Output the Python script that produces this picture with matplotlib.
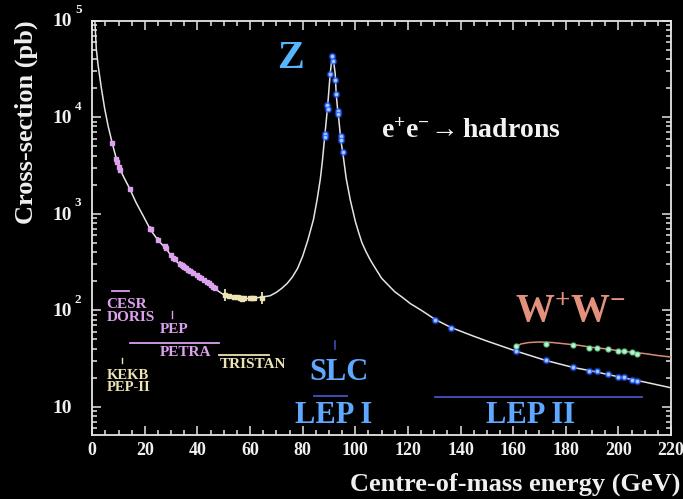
import matplotlib
matplotlib.use("Agg")
import matplotlib.pyplot as plt
from matplotlib.ticker import MultipleLocator, LogLocator, NullFormatter, FixedLocator

# ---------------------------------------------------------------- data
# Standard Model prediction for e+e- -> hadrons (GeV, pb)
curve_energy = [0.8, 1.52, 2.2, 3.4, 4.7, 6.0, 7.5, 9.8, 12.0, 14.2, 16.6, 19.3,
                22.2, 25.1, 28.0, 30.8, 34.0, 37.2, 41.0, 44.1, 46.7, 50.5,
                52.4, 57.5, 60.5, 63.2, 65.5, 67.6, 70.0, 72.0, 74.0, 76.0,
                78.0, 80.0, 82.0, 84.1, 85.5, 86.7, 87.5, 88.3, 89.05, 89.7,
                90.45, 91.1, 91.32, 91.7, 92.35, 92.73, 93.2, 93.76, 94.5, 95.3,
                96.5, 98.1, 100.0, 101.2, 102.5, 104.0, 105.7, 107.5, 110.0,
                112.5, 115.0, 118.0, 120.9, 125.0, 130.4, 136.4, 145.0, 150.0,
                161.2, 172.3, 182.8, 190.0, 200.0, 210.0, 220.0]
curve_xsec = [126000, 51100, 34700, 20400, 12300, 8130, 5500, 3160, 2380, 1820,
              1310, 955, 676, 525, 437, 339, 288, 257, 214, 191, 166, 141, 138,
              132, 132, 135, 138, 141, 153, 168, 188, 219, 269, 363, 537, 871,
              1410, 2290, 3550, 6030, 9770, 15500, 28200, 40300, 43600, 38600,
              28100, 17400, 12600, 9250, 5740, 4170, 2340, 1380, 832, 646, 501,
              407, 331, 275, 214, 182, 155, 135, 117, 100, 80.0, 66.1, 53.7,
              47.9, 37.6, 30.2, 25.5, 23.4, 20.4, 18.0, 15.7]

# W+W- threshold contribution
ww_curve_energy = [160.6, 161.2, 163.0, 166.0, 170.0, 175.0, 180.0, 185.0,
                   190.0, 195.0, 200.0, 205.0, 210.0, 215.0, 220.0]
ww_curve_xsec = [38.0, 42.2, 44.7, 46.2, 46.8, 46.2, 44.7, 43.2, 41.2, 39.8,
                 38.0, 36.7, 35.5, 33.9, 32.7]

# PEP / PETRA / CESR / DORIS measurements
low_E = [7.5, 9.1, 9.5, 10.2, 10.65, 14.2, 22.0, 22.2, 25.1, 27.7, 28.0, 29.9,
         30.8, 31.3, 33.4, 34.0, 34.6, 35.0, 35.5, 36.3, 37.2, 38.3, 39.8, 40.5,
         41.5, 42.5, 43.6, 44.2, 45.0, 46.0, 46.8]
low_xsec = [5380, 3710, 3420, 3030, 2810, 1815, 700, 692, 537, 457, 437, 372,
            347, 339, 302, 295, 285, 282, 275, 263, 257, 245, 229, 219, 214, 204,
            195, 191, 182, 174, 170]
low_err = [250, 180, 170, 150, 140, 90, 45, 40, 35, 30, 28, 22, 25, 18, 20, 18,
           16, 12, 15, 14, 13, 15, 13, 12, 12, 11, 11, 10, 10, 9, 8]

# TRISTAN measurements
tristan_E = [50.5, 52.0, 54.0, 55.0, 56.0, 56.5, 57.0, 57.6, 60.0, 60.8, 61.4, 64.4]
tristan_xsec = [145, 141, 138, 136, 135, 135, 132, 133, 135, 135, 135, 135]
tristan_err = [22, 6, 6, 5, 7, 5, 5, 5, 6, 6, 6, 20]

# LEP I (Z pole) measurements
lep1_E = [88.3, 88.3, 89.4, 89.6, 90.45, 91.3, 91.7, 92.45, 92.8, 93.6, 93.6,
          94.5, 94.5, 95.3]
lep1_xsec = [6610, 6170, 13500, 12000, 28200, 42700, 38000, 24000, 17400,
             11500, 10700, 6310, 5750, 4370]

# LEP II measurements
lep2_E = [130.4, 136.4, 161.2, 172.3, 182.8, 188.9, 191.7, 196.0, 199.8, 202.1,
          205.3, 207.2]
lep2_xsec = [80.0, 66.1, 37.6, 30.2, 25.5, 23.7, 23.3, 21.7, 20.4, 20.2, 19.1,
             18.4]

# LEP II hadronic + W+W- measurements
ww_E = [161.2, 172.3, 182.8, 188.9, 191.7, 196.0, 199.8, 202.1, 205.3, 207.2]
ww_xsec = [42.3, 45.1, 43.4, 40.6, 41.0, 39.6, 37.6, 37.6, 36.9, 35.0]

x_ticks = [0, 20, 40, 60, 80, 100, 120, 140, 160, 180, 200, 220]
y_exponents = [1, 2, 3, 4, 5]

# ---------------------------------------------------------------- style
SERIF = ["Liberation Serif", "DejaVu Serif"]
plt.rcParams["font.family"] = SERIF
plt.rcParams["font.weight"] = "bold"
plt.rcParams["mathtext.fontset"] = "custom"
plt.rcParams["mathtext.rm"] = "Liberation Serif:bold"
plt.rcParams["mathtext.it"] = "Liberation Serif:bold:italic"
plt.rcParams["mathtext.bf"] = "Liberation Serif:bold"

PINK = "#dca2ee"
CREAM = "#ece4b4"
BLUE_TXT = "#5fa8ff"
BLUE_LINE = "#4452c8"
SALMON = "#e2917c"

fig = plt.figure(figsize=(6.83, 4.99), dpi=100, facecolor="black")
ax = fig.add_axes([0.1351, 0.1283, 0.8473, 0.8305])
ax.set_facecolor("black")
ax.set_yscale("log")
ax.set_xlim(0, 220)
ax.set_ylim(10 ** 0.707, 1e5)

for sp in ax.spines.values():
    sp.set_color("#e6e6e6")
    sp.set_linewidth(1.3)

ax.xaxis.set_major_locator(FixedLocator(x_ticks))
ax.xaxis.set_minor_locator(MultipleLocator(5))
ax.yaxis.set_major_locator(LogLocator(base=10, numticks=10))
ax.yaxis.set_minor_locator(LogLocator(base=10, subs=range(2, 10), numticks=20))
ax.yaxis.set_major_formatter(NullFormatter())
ax.yaxis.set_minor_formatter(NullFormatter())
ax.tick_params(which="both", direction="in", top=True, right=True,
               colors="#e6e6e6", width=1.1)
ax.tick_params(which="major", length=6.5)
ax.tick_params(which="minor", length=3.5)
ax.tick_params(axis="x", which="major", labelsize=13, pad=5,
               labelcolor="#f0f0f0")
for lab in ax.get_xticklabels():
    lab.set_fontweight("bold")

# y tick labels: "10" with a detached superscript exponent
for k in y_exponents:
    ax.annotate("10", xy=(0, 10 ** k), xycoords=("axes fraction", "data"),
                xytext=(-14.5, -1), textcoords="offset points", ha="right",
                va="center", fontsize=14, fontweight="bold", color="#f0f0f0")
    if k > 1:
        ax.annotate(str(k), xy=(0, 10 ** k), xycoords=("axes fraction", "data"),
                    xytext=(-12.5, 3.0), textcoords="offset points", ha="left",
                    va="bottom", fontsize=9.5, fontweight="bold", color="#f0f0f0")

# ---------------------------------------------------------------- curves
ax.plot(curve_energy, curve_xsec, color="#e4e4e4", lw=1.1, zorder=3)
ax.plot(ww_curve_energy, ww_curve_xsec, color="#d88c78", lw=1.1, zorder=3)

# ---------------------------------------------------------------- data points
ax.errorbar(low_E, low_xsec, yerr=low_err, fmt="s", ms=2.6, color=PINK,
            ecolor=PINK, elinewidth=1.3, capsize=0, zorder=4)
ax.errorbar(tristan_E, tristan_xsec, yerr=tristan_err, fmt="s", ms=2.4,
            color=CREAM, ecolor=CREAM, elinewidth=1.3, capsize=0, zorder=4)

for E, s in ((lep1_E, lep1_xsec), (lep2_E, lep2_xsec)):
    ax.plot(E, s, "o", ms=5.6, color="#2a48ff", alpha=0.45, mew=0, zorder=5)
    ax.plot(E, s, "o", ms=3.2, mfc="#9ad4ff", mec="#3f6cff", mew=0.8, zorder=6)
ax.plot(ww_E, ww_xsec, "o", ms=5.0, color="#3fb870", alpha=0.35, mew=0, zorder=5)
ax.plot(ww_E, ww_xsec, "o", ms=3.4, mfc="#b8f4cc", mec="#78d49c", mew=0.7, zorder=6)

# ---------------------------------------------------------------- annotations
ax.text(75.3, 40400, "Z", color="#55b6ff", fontsize=29, fontweight="bold",
        ha="center", va="center")
ax.text(109.9, 6030, r"$\mathrm{e^{+}e^{-}}\!\rightarrow\mathrm{hadrons}$",
        color="#f2f2f2", fontsize=20, ha="left", va="baseline")
ax.text(160.8, 75.5, r"$\mathrm{W^{+}W^{-}}$", color=SALMON, fontsize=28,
        ha="left", va="baseline")

small = dict(fontsize=11, fontweight="bold", va="baseline", ha="left")
ax.plot([7.4, 14.0], [158, 158], color=PINK, lw=1.3)
ax.text(5.5, 106, "CESR", color=PINK, **small)
ax.text(5.5, 76.8, "DORIS", color=PINK, **small)
ax.plot([30.2, 30.2], [82.4, 97.5], color=PINK, lw=1.0)
ax.text(25.5, 57.7, "PEP", color=PINK, **small)
ax.plot([14.3, 48.2], [46.2, 46.2], color=PINK, lw=1.3)
ax.text(25.5, 33.3, "PETRA", color=PINK, **small)
ax.plot([48.3, 67.0], [34.1, 34.1], color=CREAM, lw=1.3)
ax.text(48.3, 25.1, "TRISTAN", color=CREAM, **small)
ax.plot([11.2, 11.2], [28.4, 32.3], color=CREAM, lw=1.0)
ax.text(5.5, 19.3, "KEKB", color=CREAM, fontsize=10.5, fontweight="bold",
        va="baseline", ha="left")
ax.text(5.5, 14.5, "PEP-II", color=CREAM, fontsize=10.5, fontweight="bold",
        va="baseline", ha="left")

big = dict(fontsize=22, fontweight="bold", va="baseline", ha="center",
           color=BLUE_TXT)
ax.plot([92.3, 92.3], [39.4, 48.0], color=BLUE_LINE, lw=1.1)
ax.text(93.8, 18.8, "SLC", **big)
ax.plot([84.3, 97.0], [12.9, 12.9], color=BLUE_LINE, lw=1.3)
ax.text(91.6, 6.79, "LEP I", **big)
ax.plot([130.4, 209.1], [12.6, 12.6], color=BLUE_LINE, lw=1.3)
ax.text(166.5, 6.74, "LEP II", **big)

# ---------------------------------------------------------------- axis titles
fig.text(26 / 683, 1 - 122 / 499, "Cross-section (pb)", rotation=90,
         fontsize=19, fontweight="bold", color="#f0f0f0", ha="center",
         va="center")
fig.text(680 / 683, 1 - 484 / 499, "Centre-of-mass energy (GeV)", fontsize=19,
         fontweight="bold", color="#f0f0f0", ha="right", va="center")

fig.savefig("out.png", dpi=100, facecolor="black")
